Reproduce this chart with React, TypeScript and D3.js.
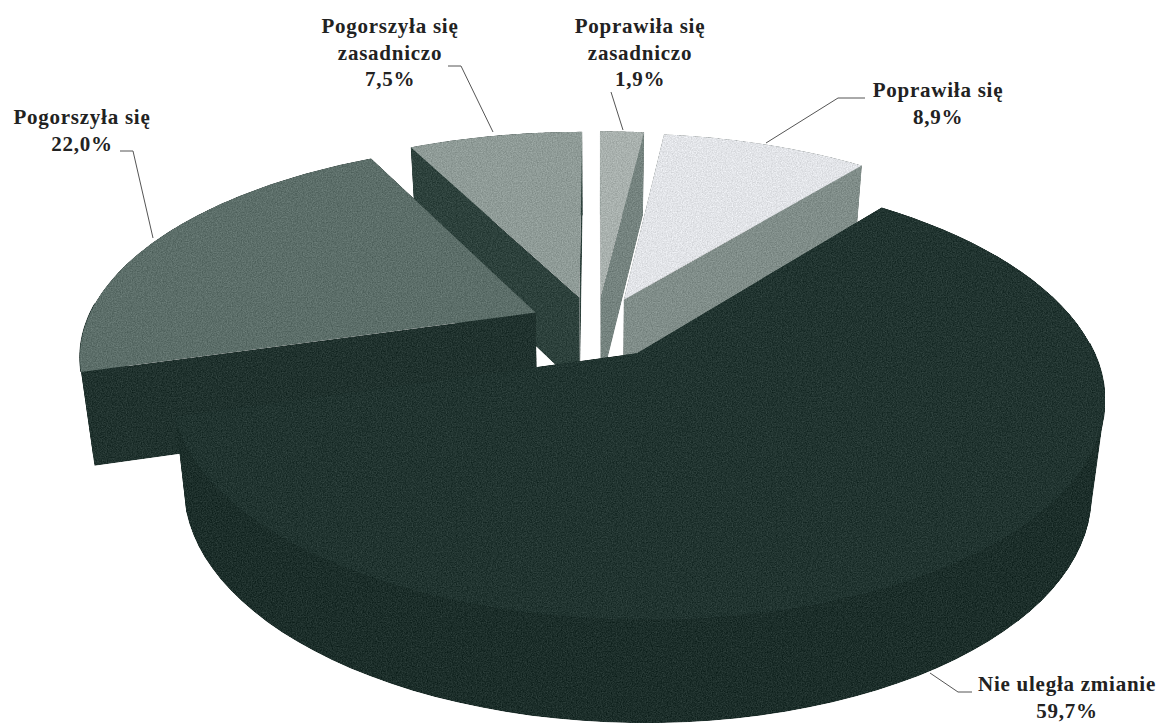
import React from "react";
import * as d3 from "d3";

const categories = ["Poprawiła się zasadniczo", "Poprawiła się", "Nie uległa zmianie", "Pogorszyła się", "Pogorszyła się zasadniczo"];
const values = [1.9, 8.9, 59.7, 22.0, 7.5];

const explodeX = [0.008, 0.061, 0.087, -0.138, -0.04];
const explodeY = [0.16, 0.145, -0.114, 0.08, 0.156];
const radiusScale = [1, 1, 0.99, 1, 1];
const topColors = ["#a9b1ae", "#e2e4e8", "#213430", "#5c6e69", "#8f9b97"];
const wallColors = ["#75837f", "#808d89", "#1c2e2a", "#20322e", "#2d413c"];
const drawOrder = [4, 3, 0, 1, 2];

const labelLines = [
  ["Poprawiła się", "zasadniczo", "1,9%"],
  ["Poprawiła się", "8,9%"],
  ["Nie uległa zmianie", "59,7%"],
  ["Pogorszyła się", "22,0%"],
  ["Pogorszyła się", "zasadniczo", "7,5%"],
];
const labelX = [640, 938, 1067, 82, 390];
const labelY = [33, 97, 691, 124, 33];
const leaders = [
  [[611, 92], [623, 130]],
  [[865, 98], [838, 98], [766, 143]],
  [[972, 692], [958, 692], [930, 673]],
  [[120, 151], [133, 151], [153, 238]],
  [[448, 66], [461, 66], [493, 132]],
];

const CX = 597, CY = 329, R = 452, K = 208, H = 92, P = 0.19, Q = 0.026;

function project(u: number, v: number, h: number): [number, number] {
  const s = 1 / (1 + P * v);
  return [CX + R * u * s * (1 - Q * h), CY - K * v * s + H * h * Math.sqrt(s)];
}

const pieGen = d3.pie<number>().sort(null).value((d) => d);
const arcs = pieGen(values);
const line = d3.line();

function buildSlice(i: number) {
  const a = arcs[i];
  const ox = explodeX[i];
  const oy = explodeY[i];
  const rs = radiusScale[i];
  const steps = d3.range(0, 81).map((k) => a.startAngle + ((a.endAngle - a.startAngle) * k) / 80);
  const rim = (h: number) => steps.map((t) => project(ox + rs * Math.sin(t), oy + rs * Math.cos(t), h));
  const apex = (h: number) => project(ox, oy, h);
  const r0 = rim(0), r1 = rim(1);
  const top = line([apex(0), ...r0]) + "Z";
  const wall = line([...r0, ...[...r1].reverse()]) + "Z";
  const seamPts = r0.filter((_, k) => Math.cos(steps[k]) < 0.05);
  const seam = seamPts.length > 1 ? line(seamPts) || "" : "";
  const face0 = line([apex(0), r0[0], r1[0], apex(1)]) + "Z";
  const face1 = line([apex(0), r0[80], r1[80], apex(1)]) + "Z";
  // side silhouette: the hull closes the notch between the upper and lower rim on the right
  const sideIdx = d3.range(0, 81).filter((k) => steps[k] > Math.PI * 0.4 && steps[k] < Math.PI * 0.75);
  const hull = sideIdx.length > 2 ? d3.polygonHull([...sideIdx.map((k) => r0[k]), ...sideIdx.map((k) => r1[k])]) : null;
  const side = hull ? line(hull) + "Z" : "";
  return { top, wall, seam, face0, face1, side };
}

export default function App() {
  return (
    <svg width={1163} height={724} style={{ position: "absolute", left: 0, top: 0, background: "#fff" }}>
      <defs>
        <filter id="grain" x="0" y="0" width="100%" height="100%" colorInterpolationFilters="sRGB">
          <feTurbulence type="fractalNoise" baseFrequency="0.8" numOctaves={2} seed={4} result="n" />
          <feColorMatrix in="n" type="matrix" values="1 0 0 0 0 1 0 0 0 0 1 0 0 0 0 0 0 0 0 1" result="g" />
          <feComposite in="g" in2="SourceGraphic" operator="arithmetic" k1={0} k2={0.22} k3={1} k4={-0.11} result="m" />
          <feComposite in="m" in2="SourceAlpha" operator="in" />
        </filter>
      </defs>
      <g filter="url(#grain)">
        {drawOrder.map((i) => {
          const s = buildSlice(i);
          return (
            <g key={categories[i]}>
              <path d={s.wall} fill={wallColors[i]} />
              {s.side && <path d={s.side} fill={wallColors[i]} />}
              <path d={s.face0} fill={wallColors[i]} />
              <path d={s.face1} fill={wallColors[i]} />
              {s.seam && <path d={s.seam} fill="none" stroke={wallColors[i]} strokeWidth={1.5} />}
              <path d={s.top} fill={topColors[i]} />
            </g>
          );
        })}
      </g>
      {leaders.map((pts, i) => (
        <path key={i} d={line(pts as [number, number][]) || ""} fill="none" stroke="#555" strokeWidth={1} />
      ))}
      {labelLines.map((lines, i) => (
        <text
          key={i}
          textAnchor="middle"
          fontFamily="'Liberation Serif', serif"
          fontWeight="bold"
          fontSize={21}
          letterSpacing={0.75}
          fill="#222"
        >
          {lines.map((t, j) => (
            <tspan key={j} x={labelX[i]} y={labelY[i] + j * 26.6}>{t}</tspan>
          ))}
        </text>
      ))}
    </svg>
  );
}
